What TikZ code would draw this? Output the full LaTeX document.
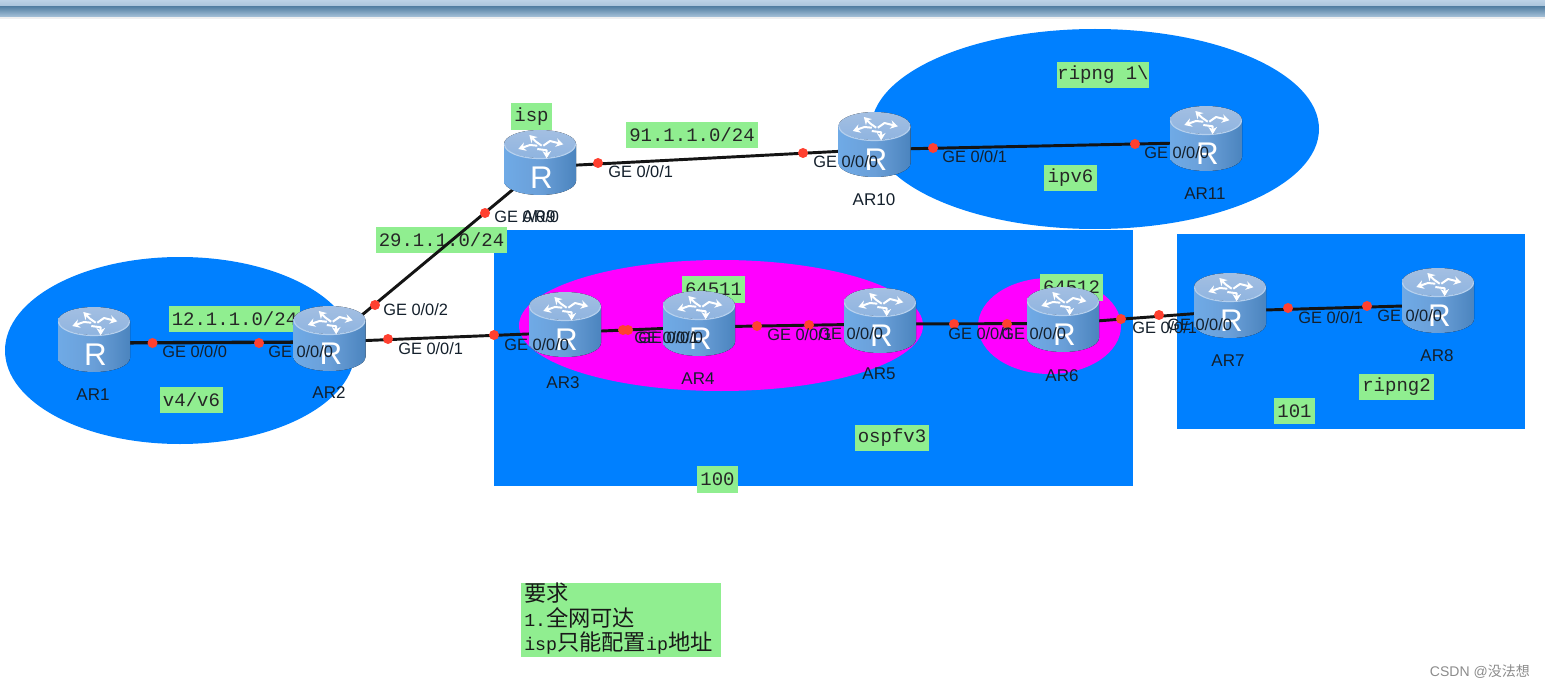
\documentclass[tikz,border=0pt]{standalone}
\usepackage{fontspec}
\setmainfont{Liberation Sans}
\setmonofont{Liberation Mono}
\newfontfamily\cjk{Noto Sans CJK SC}
\usetikzlibrary{arrows.meta}
\definecolor{zoneblue}{HTML}{0080FF}
\definecolor{zonepink}{HTML}{FF00FF}
\definecolor{notegreen}{HTML}{90EE90}
\definecolor{portred}{HTML}{FF4030}
\definecolor{inktext}{HTML}{14202C}
\definecolor{rbodyl}{HTML}{6FAAE6}
\definecolor{rbodym}{HTML}{6A9FD8}
\definecolor{rbodyr}{HTML}{4B84BE}
\definecolor{rtopa}{HTML}{A3BFE2}
\definecolor{rtopb}{HTML}{8FB4E0}
\definecolor{rrim}{HTML}{B5D0EE}
\tikzset{
  zone/.style={fill=zoneblue,draw=none},
  pinkzone/.style={fill=zonepink,draw=none},
  glab/.style={fill=notegreen,draw=none,inner sep=0pt,align=center,text=black!85,font=\ttfamily\fontsize{14.25pt}{16pt}\selectfont},
  link/.style={draw=black!92,line width=2.2pt},
  thicklink/.style={draw=black!92,line width=2.5pt},
  portdot/.style={circle,fill=portred,draw=none,inner sep=0pt,minimum size=7.5pt},
  portlab/.style={anchor=west,inner sep=0pt,text=inktext,font=\fontsize{12.3pt}{14pt}\selectfont},
  devlab/.style={inner sep=0pt,text=inktext,font=\fontsize{12.75pt}{15pt}\selectfont},
  rbox/.style={inner sep=0pt,minimum width=54pt,minimum height=48pt},
  rarrow/.style={draw=white,line width=1.5pt,-{Stealth[length=5.5pt,width=6.5pt]},line join=round},
}
\newcommand{\glabel}[6]{%
  \pgfmathsetmacro\gw{(#4-#2)*0.75}\pgfmathsetmacro\gh{(#5-#3)*0.75}%
  \node[glab,minimum width=\gw pt,minimum height=\gh pt] (#1) at ({(#2+#4)/2},{(#3+#5)/2}) {#6};}
\newcommand{\routerbody}[2]{%
  \begin{scope}[shift={(#1,#2)}]
    \fill[left color=rbodyl,right color=rbodyr,middle color=rbodym]
      (-36,14) -- (-36,51) arc[start angle=180,end angle=0,x radius=36,y radius=14] -- (36,14) -- cycle;
    \fill[top color=rtopa,bottom color=rtopb] (0,14) ellipse[x radius=36,y radius=14];
    \draw[rrim,line width=.9pt] (-35.5,14.5) arc[start angle=180,end angle=0,x radius=35.5,y radius=14];
    \draw[rarrow] (1.7,15.7) -- (-4,11.7) -- (-10.7,5);
    \draw[rarrow] (3.3,15.7) -- (10,11) -- (23.3,14.3);
    \draw[rarrow] (-2.7,15.7) -- (-10,15) -- (-21.7,19);
    \draw[rarrow] (-2.7,19) -- (6.7,20.3) -- (6.7,28.3);
    \node[text=white,inner sep=0pt,font=\fontsize{23.5pt}{24pt}\selectfont] at (1.5,48) {R};
  \end{scope}}
\newcommand{\cjkbig}[1]{{\cjk\fontsize{16.7pt}{18.4pt}\selectfont #1}}
\begin{document}
\begin{tikzpicture}[x=0.75pt,y=-0.75pt]
\useasboundingbox (0,0) rectangle (1545,688);
\fill[white] (0,0) rectangle (1545,688);
% window band
\shade[top color={rgb,255:red,188;green,210;blue,230},bottom color={rgb,255:red,170;green,196;blue,219}] (0,0) rectangle (1545,6);
\shade[top color={rgb,255:red,84;green,128;blue,163},bottom color={rgb,255:red,172;green,198;blue,220}] (0,6.5) rectangle (1545,17.5);
\fill[black!6] (0,17.5) rectangle (1545,19);
% zones
\path[zone] (180,350.5) ellipse[x radius=175,y radius=93.5];
\path[zone] (1095,129) ellipse[x radius=224,y radius=100];
\path[zone] (494,230) rectangle (1133,486);
\path[zone] (1177,234) rectangle (1525,429);
\path[pinkzone] (721,325.5) ellipse[x radius=202,y radius=65.5];
\path[pinkzone] (1049.5,326) ellipse[x radius=71.5,y radius=48];
% notes
\glabel{nIsp}{511}{103}{552}{130}{isp}
\glabel{nNet91}{626}{122}{758}{148}{91.1.1.0/24}
\glabel{nNet29}{376}{227}{507}{253}{29.1.1.0/24}
\glabel{nNet12}{169}{306}{300}{332}{12.1.1.0/24}
\glabel{nV46}{160}{387}{223}{413}{v4/v6}
\glabel{nAs1}{682}{276}{745}{303}{64511}
\glabel{nAs2}{1040}{274}{1103}{301}{64512}
\glabel{nRip1}{1057}{62}{1149}{88}{ripng 1\textbackslash}
\glabel{nIpv6}{1044}{165}{1097}{191}{ipv6}
\glabel{nRip2}{1359}{374}{1434}{400}{ripng2}
\glabel{n101}{1274}{398}{1315}{424}{101}
\glabel{nOspf}{855}{425}{929}{451}{ospfv3}
\glabel{n100}{697}{466}{738}{493}{100}
\node[fill=notegreen,inner sep=0pt,minimum width=150pt,minimum height=55.5pt] (nReq) at (621,620) {};
\node[anchor=north west,inner sep=0pt,align=left,text=black!90,font=\ttfamily\fontsize{13.7pt}{18.4pt}\selectfont] (nReqText) at (524,583)
  {\cjkbig{要求}\\1.\cjkbig{全网可达}\\isp\cjkbig{只能配置}ip\cjkbig{地址}};
% router anchors (at link height)
\node[rbox] (AR1) at (94,343) {};
\node[rbox] (AR2) at (329.5,342) {};
\node[rbox] (AR9) at (540,167) {};
\node[rbox] (AR10) at (874.5,149.5) {};
\node[rbox] (AR11) at (1206,142.5) {};
\node[rbox] (AR3) at (565,332.5) {};
\node[rbox] (AR4) at (699,327) {};
\node[rbox] (AR5) at (880,324) {};
\node[rbox] (AR6) at (1063,323.5) {};
\node[rbox] (AR7) at (1230,311) {};
\node[rbox] (AR8) at (1438,305) {};
% connectors
\draw[thicklink] (AR1.center) -- (AR2.center);
\draw[link] (AR2.center) -- (AR3.center);
\draw[link] (AR2.center) -- (AR9.center);
\draw[link] (AR9.center) -- (AR10.center);
\draw[link] (AR10.center) -- (AR11.center);
\draw[link] (AR3.center) -- (AR4.center);
\draw[link] (AR4.center) -- (AR5.center);
\draw[link] (AR5.center) -- (AR6.center);
\draw[link] (AR6.center) -- (AR7.center);
\draw[link] (AR7.center) -- (AR8.center);
% routers
\routerbody{94}{307}
\routerbody{329.5}{306}
\routerbody{540}{130}
\routerbody{874.5}{112}
\routerbody{1206}{106}
\routerbody{565}{292}
\routerbody{699}{291}
\routerbody{880}{288}
\routerbody{1063}{287}
\routerbody{1230}{273}
\routerbody{1438}{268}
% port dots
\foreach \n/\px/\py in {d1/152.5/343,d2/259/343,d3/388/339,d4/494/335,d5/375/305,d6/485/213,d7/598/163,d8/803/153,d9/933/148,d10/1135/144,d11/623/330,d12/628/330,d13/757/326,d14/809/325,d15/954/324,d16/1007/324,d17/1121/319,d18/1159/315,d19/1288/308,d20/1367/306}
  \node[portdot] (\n) at (\px,\py) {};
% port labels
\foreach \n/\px/\py/\t in {p1/162/352/GE 0\slash 0\slash 0,p2/268/352/GE 0\slash 0\slash 0,p3/383/310/GE 0\slash 0\slash 2,p4/398/349/GE 0\slash 0\slash 1,p5/504/345/GE 0\slash 0\slash 0,p6/634/338/GE 0\slash 0\slash 1,p7/638/338/GE 0\slash 0\slash 0,p8/767/335/GE 0\slash 0\slash 1,p9/818/334/GE 0\slash 0\slash 0,p10/948/334/GE 0\slash 0\slash 1,p11/1001/334/GE 0\slash 0\slash 0,p12/1132/328/GE 0\slash 0\slash 1,p13/1167/325/GE 0\slash 0\slash 0,p14/1298/318/GE 0\slash 0\slash 1,p15/1377/316/GE 0\slash 0\slash 0,p16/494/217/GE 0\slash 0\slash 0,p17/608/172/GE 0\slash 0\slash 1,p18/813/162/GE 0\slash 0\slash 0,p19/942/157/GE 0\slash 0\slash 1,p20/1144/153/GE 0\slash 0\slash 0}
  \node[portlab] (\n) at (\px,\py) {\t};
% device labels
\foreach \n/\px/\py/\t in {l1/93/395/AR1,l2/329/393/AR2,l9/539/217/AR9,l10/874/200/AR10,l11/1205/193.5/AR11,l3/563/383/AR3,l4/698/379/AR4,l5/879/374/AR5,l6/1062/375.5/AR6,l7/1228/361/AR7,l8/1437/356/AR8}
  \node[devlab] (\n) at (\px,\py) {\t};
% watermark
\node[anchor=east,inner sep=0pt,text=black!45,font=\fontsize{10.5pt}{12pt}\selectfont] (wm) at (1530,672) {CSDN @{\cjk 没法想}};
\end{tikzpicture}
\end{document}
